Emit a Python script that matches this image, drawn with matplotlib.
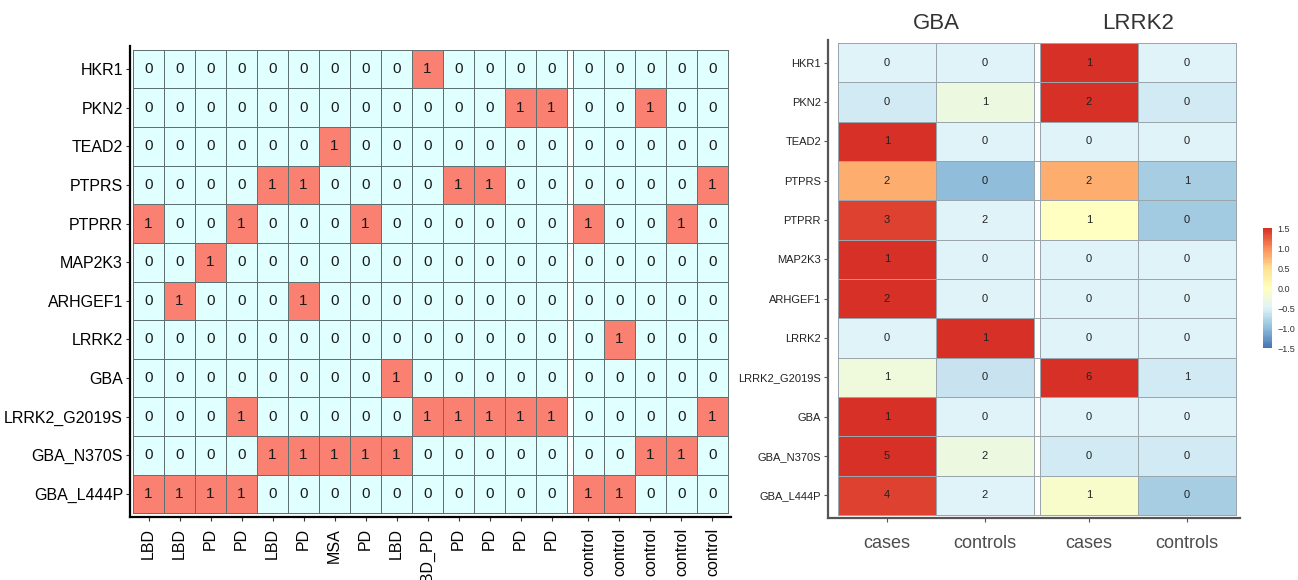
import numpy as np
import matplotlib
matplotlib.use('Agg')
from matplotlib import pyplot as plt
from matplotlib.colors import ListedColormap, LinearSegmentedColormap, Normalize
from matplotlib.cm import ScalarMappable

plt.rcParams['font.family'] = ['Liberation Sans', 'DejaVu Sans']

genes = ['HKR1', 'PKN2', 'TEAD2', 'PTPRS', 'PTPRR', 'MAP2K3', 'ARHGEF1',
         'LRRK2', 'GBA', 'LRRK2_G2019S', 'GBA_N370S', 'GBA_L444P']

case_labels = ['LBD', 'LBD', 'PD', 'PD', 'LBD', 'PD', 'MSA', 'PD', 'LBD',
               'LBD_PD', 'PD', 'PD', 'PD', 'PD']
control_labels = ['control', 'control', 'control', 'control', 'control']

# carrier calls per sample (1 = variant present)
case_calls = [
    [0, 0, 0, 0, 0, 0, 0, 0, 0, 1, 0, 0, 0, 0],  # HKR1
    [0, 0, 0, 0, 0, 0, 0, 0, 0, 0, 0, 0, 1, 1],  # PKN2
    [0, 0, 0, 0, 0, 0, 1, 0, 0, 0, 0, 0, 0, 0],  # TEAD2
    [0, 0, 0, 0, 1, 1, 0, 0, 0, 0, 1, 1, 0, 0],  # PTPRS
    [1, 0, 0, 1, 0, 0, 0, 1, 0, 0, 0, 0, 0, 0],  # PTPRR
    [0, 0, 1, 0, 0, 0, 0, 0, 0, 0, 0, 0, 0, 0],  # MAP2K3
    [0, 1, 0, 0, 0, 1, 0, 0, 0, 0, 0, 0, 0, 0],  # ARHGEF1
    [0, 0, 0, 0, 0, 0, 0, 0, 0, 0, 0, 0, 0, 0],  # LRRK2
    [0, 0, 0, 0, 0, 0, 0, 0, 1, 0, 0, 0, 0, 0],  # GBA
    [0, 0, 0, 1, 0, 0, 0, 0, 0, 1, 1, 1, 1, 1],  # LRRK2_G2019S
    [0, 0, 0, 0, 1, 1, 1, 1, 1, 0, 0, 0, 0, 0],  # GBA_N370S
    [1, 1, 1, 1, 0, 0, 0, 0, 0, 0, 0, 0, 0, 0],  # GBA_L444P
]
control_calls = [
    [0, 0, 0, 0, 0],
    [0, 0, 1, 0, 0],
    [0, 0, 0, 0, 0],
    [0, 0, 0, 0, 1],
    [1, 0, 0, 1, 0],
    [0, 0, 0, 0, 0],
    [0, 0, 0, 0, 0],
    [0, 1, 0, 0, 0],
    [0, 0, 0, 0, 0],
    [0, 0, 0, 0, 1],
    [0, 0, 1, 1, 0],
    [1, 1, 0, 0, 0],
]

# carrier counts per group (rows in summary order)
summary_genes = ['HKR1', 'PKN2', 'TEAD2', 'PTPRS', 'PTPRR', 'MAP2K3', 'ARHGEF1',
                 'LRRK2', 'LRRK2_G2019S', 'GBA', 'GBA_N370S', 'GBA_L444P']
groups = ['GBA', 'LRRK2']
group_cols = ['cases', 'controls']
gba_cases = [0, 0, 1, 2, 3, 1, 2, 0, 1, 1, 5, 4]
gba_controls = [0, 1, 0, 0, 2, 0, 0, 1, 0, 0, 2, 2]
lrrk2_cases = [1, 2, 0, 2, 1, 0, 0, 0, 6, 0, 0, 1]
lrrk2_controls = [0, 0, 0, 1, 0, 0, 0, 0, 1, 0, 0, 0]

# row-scaled scores used for the fill
gba_cases_z = [-0.5, -0.6, 1.5, 0.8, 1.4, 1.5, 1.5, -0.5, -0.25, 1.5, 1.5, 1.4]
gba_controls_z = [-0.5, -0.3, -0.5, -1.0, -0.5, -0.5, -0.5, 1.5, -0.65, -0.5, -0.3, -0.5]
lrrk2_cases_z = [1.5, 1.5, -0.5, 0.8, -0.02, -0.5, -0.5, -0.5, 1.5, -0.5, -0.6, -0.1]
lrrk2_controls_z = [-0.5, -0.6, -0.5, -0.85, -0.9, -0.5, -0.5, -0.5, -0.58, -0.5, -0.6, -0.85]

cbar_ticks = [1.5, 1.0, 0.5, 0.0, -0.5, -1.0, -1.5]

fig = plt.figure(figsize=(12.98, 5.8), dpi=100)
W, H = 1298.0, 580.0

def px_axes(x0, y0, x1, y1):
    return fig.add_axes([x0 / W, 1 - y1 / H, (x1 - x0) / W, (y1 - y0) / H])

# ---- left panel: per-sample calls ----
ax = px_axes(130, 46, 731, 517)
n_case = len(case_labels)
n_ctrl = len(control_labels)
gap = 0.19
calls = np.hstack([np.array(case_calls, float),
                   np.full((len(genes), 1), np.nan),
                   np.array(control_calls, float)])
xe = np.concatenate([np.arange(n_case + 1) - 0.5,
                     np.arange(n_ctrl + 1) - 0.5 + n_case + gap])
ye = np.arange(len(genes) + 1) - 0.5
ax.pcolormesh(xe, ye, np.ma.masked_invalid(calls),
              cmap=ListedColormap(['#E0FFFF', '#FA8072']), vmin=0, vmax=1,
              edgecolors='#5f7070', linewidth=0.5)
xc = list(np.arange(n_case)) + list(np.arange(n_ctrl) + n_case + gap)
for i in range(len(genes)):
    vals = case_calls[i] + control_calls[i]
    for j, v in enumerate(vals):
        ax.text(xc[j], i, str(v), ha='center', va='center', fontsize=11, color='#1a1a1a')
ax.set_xlim(-0.6, n_case + n_ctrl - 0.5 + gap + 0.1)
ax.set_ylim(len(genes) - 0.5 + 0.1, -0.6)
ax.set_yticks(range(len(genes)))
ax.set_yticklabels(genes, fontsize=11.5)
ax.set_xticks(xc)
ax.set_xticklabels(case_labels + control_labels, rotation=90, fontsize=11.5)
ax.tick_params(length=3, width=0.8, color='#333333', pad=2)
ax.tick_params(axis='x', pad=5)
for s in ['top', 'right']:
    ax.spines[s].set_visible(False)
for s in ['left', 'bottom']:
    ax.spines[s].set_linewidth(1.6)
    ax.spines[s].set_color('black')

# ---- right panel: group counts ----
rdylbu = ['#4575B4', '#91BFDB', '#E0F3F8', '#FFFFBF', '#FEE090', '#FC8D59', '#D73027']
cmap = LinearSegmentedColormap.from_list('rdylbu_r', rdylbu, N=100)
norm = Normalize(vmin=-1.5, vmax=1.5)

ax2 = px_axes(828, 40, 1240, 518)
g2 = 0.06
z = np.column_stack([gba_cases_z, gba_controls_z, np.full(len(summary_genes), np.nan),
                     lrrk2_cases_z, lrrk2_controls_z])
counts = np.column_stack([gba_cases, gba_controls, lrrk2_cases, lrrk2_controls])
xe2 = np.array([-0.5, 0.5, 1.5, 1.5 + g2, 2.5 + g2, 3.5 + g2])
ye2 = np.arange(len(summary_genes) + 1) - 0.5
ax2.pcolormesh(xe2, ye2, np.ma.masked_invalid(z), cmap=cmap, norm=norm,
               edgecolors='#9aa6ab', linewidth=0.6)
xc2 = [0, 1, 2 + g2, 3 + g2]
for i in range(len(summary_genes)):
    for j in range(4):
        ax2.text(xc2[j], i, str(counts[i, j]), ha='center', va='center',
                 fontsize=8, color='#222222')
ax2.set_xlim(-0.6, 3.5 + g2 + 0.04)
ax2.set_ylim(len(summary_genes) - 0.5 + 0.08, -0.58)
ax2.set_yticks(range(len(summary_genes)))
ax2.set_yticklabels(summary_genes, fontsize=8, color='#222222')
ax2.set_xticks(xc2)
ax2.set_xticklabels(group_cols * 2, fontsize=13, color='#4d4d4d')
ax2.tick_params(length=3, width=0.8, color='#555555', pad=2)
ax2.tick_params(axis='x', pad=9)
for s in ['top', 'right']:
    ax2.spines[s].set_visible(False)
for s in ['left', 'bottom']:
    ax2.spines[s].set_linewidth(1.6)
    ax2.spines[s].set_color('#555555')
for k, name in enumerate(groups):
    ax2.text(0.5 + k * (2 + g2), -0.72, name, ha='center', va='bottom',
             fontsize=16, color='#333333', clip_on=False)

# ---- colour key ----
cax = px_axes(1263, 228, 1272, 348)
cb = fig.colorbar(ScalarMappable(norm=norm, cmap=cmap), cax=cax, ticks=cbar_ticks)
cb.outline.set_visible(False)
cb.ax.tick_params(labelsize=6.5, length=2, color='white', pad=2, labelcolor='#333333')
cb.ax.set_yticklabels(['1.5', '1.0', '0.5', '0.0', '\u22120.5', '\u22121.0', '\u22121.5'])

fig.savefig('out.png', dpi=100)
